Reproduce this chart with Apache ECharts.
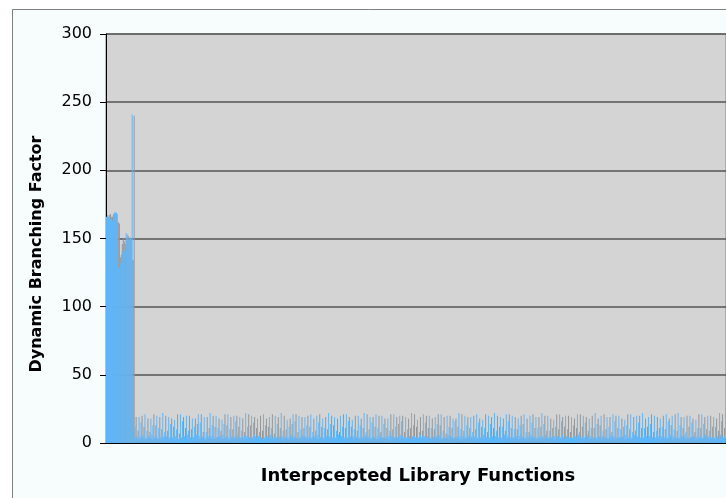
<!DOCTYPE html>
<html>
<head>
<meta charset="utf-8">
<script src="https://cdn.jsdelivr.net/npm/echarts@6/dist/echarts.min.js"></script>
<style>
  html, body { margin: 0; padding: 0; background: #ffffff; }
  #chart { width: 726px; height: 498px; }
</style>
</head>
<body>
<div id="chart"></div>
<script>
// Branching factor per intercepted library function (front and back columns)
const blueValues = [
  165,166,167,166,167,164,166,163,168,169,168,169,168,
  129,128,132,133,140,141,142,141,154,153,149,150,151,150,241,
  20,4,12,5,4,3, 19,5,15,4,6,4, 21,4,9,3,5,4, 18,6,13,4,4,5, 20,3,11,5,4,4,
  22,5,8,4,5,3, 19,4,14,6,4,5, 17,5,10,4,3,4, 21,4,16,5,5,4, 20,6,9,4,4,3,
  18,4,12,5,6,4, 21,5,15,3,4,5, 19,4,8,4,5,4, 22,5,13,6,4,3, 20,4,11,5,5,4,
  17,6,14,4,4,5, 21,4,10,5,4,4, 20,5,16,3,6,4, 19,4,9,5,4,5, 22,5,12,4,3,4,
  20,4,15,6,5,4, 18,5,8,4,4,3, 21,4,13,5,5,4, 19,6,11,4,4,5, 20,4,14,3,5,4,
  22,5,9,4,4,5, 17,4,12,5,6,4, 21,5,16,4,4,3, 20,4,10,6,5,4, 19,5,13,4,4,5,
  21,4,8,5,5,4, 20,6,15,4,4,3, 18,4,11,5,5,4, 22,5,14,3,4,5, 19,4,9,5,6,4,
  20,5,12,4,4,4, 21,4,16,6,5,3, 17,5,10,4,4,5, 20,4,13,5,4,4, 22,6,8,4,5,4,
  19,4,15,5,4,3, 21,5,11,4,6,4, 20,4,14,3,4,5, 18,5,9,6,5,4, 21,4,12,4,4,5,
  20,6,16,5,4,4, 19,4,10,4,5,3, 22,5,13,5,4,4, 17,4,8,6,4,5, 21,5,15,4,5,4,
  20,4,11,3,4,5, 19,5,14,5,6,4, 21,4,9,4,4,3, 20,6,12,5,5,4, 18,4,16,4,4,5,
  22,5,10,4,5,4, 20,4,13,6,4,3, 19,5,8,4,5,4, 21,4,15,5,4,5, 17,6,11,4,4,4,
  20,4,14,5,5,3, 22,5,9,4,4,5, 19,4,12,3,6,4, 21,5,16,5,4,4, 20,4,10,4,5,5,
  18,5,13,6,4,4, 21,4,8,4,5,3, 20,6,15,5,4,4, 19,4,11,4,4,5, 22,5,14,3,6,4,
  20,4,9,5,4,4, 17,5,12,4,5,5, 21,4,16,6,4,3, 20,5,10,4,4,4, 19,4,13,5,5,4,
  21,6,8,4,4,5, 20,4,15,5,6,4, 18,5,11,4,4,3, 22,4,14,5,5,4, 20,5,9,4,4,5,
  19,4,12,6,5,4, 21,5,16,4,4,4, 20,4,10,3,5,5, 17,6,13,5,4,3, 21,4,8,4,6,4,
  20,5,15,4,4,5, 22,4,11,5,5,4, 19,5,14,4,4,3, 20,4,9,6,5,4, 18,5,12,4,4,5,
  21,4,16,5,6,4, 20,5,10,3,4,4, 22,4,13,5,5,5, 19,6,8,4,4,3, 20,4,15,5,5,4,
  17,5,11,4,4,5, 21,4,14,6,6,4, 20,5,9,4,4,4, 19,4,12,5,5,3, 22,6,16,4,4,5
];
const grayValues = [
  166,165,167,168,165,166,167,168,169,167,162,162,161,
  136,138,146,150,148,146,150,148,152,148,150,149,134,134,240,
  3,19,3,9,2,3, 4,20,3,12,3,2, 3,18,4,8,3,3, 2,21,3,13,4,3, 3,19,2,10,3,4,
  3,20,4,9,3,2, 4,18,3,12,2,3, 3,21,3,7,4,3, 2,19,4,11,3,3, 3,20,3,10,2,4,
  4,18,2,14,3,3, 3,21,4,8,3,2, 2,19,3,11,4,3, 3,20,3,12,3,4, 4,18,2,9,3,3,
  3,21,3,13,2,3, 2,19,4,10,3,3, 4,20,3,12,4,2, 3,18,2,8,3,3, 3,21,4,13,3,4,
  2,19,3,11,4,3, 4,20,3,9,2,3, 3,18,4,12,3,3, 3,21,2,7,3,4, 4,19,3,11,4,2,
  3,20,3,10,3,3, 2,18,4,14,3,3, 4,21,3,8,2,4, 3,19,3,11,4,3, 3,20,2,12,3,3,
  4,18,3,9,3,2, 3,21,4,12,3,3, 2,19,3,10,4,3, 4,20,3,13,2,3, 3,18,4,8,3,4,
  3,21,2,11,3,3, 4,19,3,12,4,2, 3,20,4,9,3,3, 2,18,3,11,3,4, 4,21,3,10,2,3,
  3,19,4,12,3,3, 2,20,3,8,4,3, 4,18,3,11,3,2, 3,21,2,10,3,4, 3,19,4,14,3,3,
  4,20,3,8,2,3, 3,18,3,11,4,3, 2,21,4,12,3,3, 4,19,3,9,3,2, 3,20,2,11,4,3,
  3,18,4,10,3,4, 4,21,3,13,2,3, 3,19,3,7,4,3, 2,20,4,11,3,3, 4,18,3,12,3,2,
  3,21,2,9,3,3, 4,19,4,11,3,4, 3,20,3,10,2,3, 2,18,3,12,4,3, 3,21,4,8,3,3,
  4,19,3,11,3,2, 3,20,2,12,4,3, 2,18,4,9,3,3, 4,21,3,11,3,4, 3,19,3,10,2,3,
  3,20,4,14,3,3, 2,18,3,8,4,3, 4,21,3,11,3,2, 3,19,2,12,3,4, 3,20,4,9,3,3,
  4,18,3,11,2,3, 3,21,4,10,3,3, 2,19,3,12,4,2, 4,20,3,8,3,3, 3,18,2,11,3,4,
  3,21,3,12,3,3, 4,19,4,9,2,3, 3,20,3,11,4,3, 2,18,4,13,3,2, 4,21,3,10,3,3,
  3,19,2,8,4,3, 2,20,3,11,3,4, 4,18,4,12,2,3, 3,21,3,10,3,3, 3,19,4,9,4,2,
  4,20,3,11,3,3, 3,18,2,12,3,3, 2,21,4,8,4,3, 4,19,3,11,2,4, 3,20,3,10,3,3,
  3,18,4,13,3,2, 4,21,3,9,3,3, 3,19,2,11,4,3, 2,20,3,12,3,4, 4,18,4,8,2,3,
  3,21,3,11,3,3, 4,19,4,10,4,2, 3,20,3,12,3,3, 2,18,2,9,3,4, 3,21,4,11,3,3
];
const categories = blueValues.map((_, i) => 'F' + (i + 1));
const yTicks = { min: 0, max: 300, interval: 50 };

const chart = echarts.init(document.getElementById('chart'), null, { renderer: 'canvas' });
const FONT = '"DejaVu Sans", Verdana, sans-serif';

chart.setOption({
  backgroundColor: '#ffffff',
  animation: false,
  graphic: [
    {
      type: 'rect', z: -10, silent: true,
      shape: { x: 12.5, y: 9.5, width: 760, height: 520 },
      style: { fill: '#f7fdfd', stroke: '#808080', lineWidth: 1 }
    },
    {
      type: 'text', x: 37, y: 254, rotation: Math.PI / 2,
      style: {
        text: 'Dynamic Branching Factor', font: 'bold 16px ' + FONT,
        fill: '#000', align: 'center', verticalAlign: 'middle'
      }
    },
    {
      type: 'text', x: 418, y: 476,
      style: {
        text: 'Interpcepted Library Functions', font: 'bold 18px ' + FONT,
        fill: '#000', align: 'center', verticalAlign: 'middle'
      }
    }
  ],
  grid: {
    left: 106, top: 34, width: categories.length, height: 409,
    show: true, backgroundColor: '#d4d4d4', borderColor: '#808080', borderWidth: 1
  },
  xAxis: {
    type: 'category', data: categories,
    axisLine: { show: true, lineStyle: { color: '#000', width: 1 } },
    axisTick: { show: false }, axisLabel: { show: false }, splitLine: { show: false }
  },
  yAxis: {
    type: 'value', min: yTicks.min, max: yTicks.max, interval: yTicks.interval,
    axisLine: { show: true, lineStyle: { color: '#000', width: 1 } },
    axisTick: { show: true, length: 6, lineStyle: { color: '#000' } },
    axisLabel: { color: '#000', fontFamily: FONT, fontSize: 16, margin: 14 },
    splitLine: { show: true, lineStyle: { color: '#555', width: 1.5 } }
  },
  series: [
    {
      type: 'bar', data: blueValues, barWidth: 1, barGap: '100%', z: 3,
      itemStyle: { color: '#5cb8ff' }
    },
    {
      type: 'bar', data: grayValues, barWidth: 1, z: 2,
      itemStyle: { color: '#969696' }
    }
  ]
});
</script>
</body>
</html>
